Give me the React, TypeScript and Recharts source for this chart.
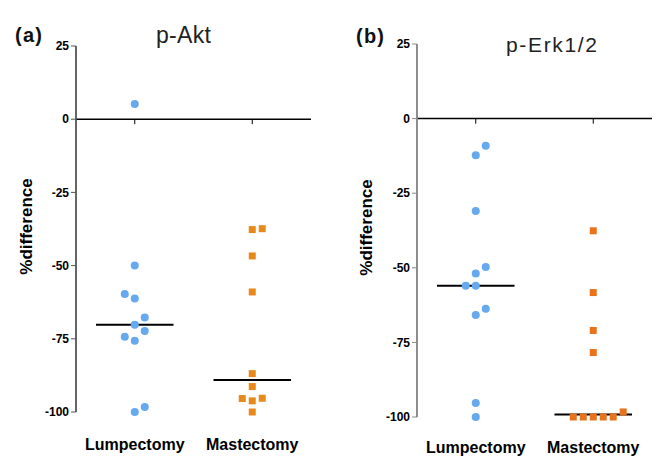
import React from 'react';
import { ScatterChart, Scatter, XAxis, YAxis, ReferenceLine } from 'recharts';

const categories = ['Lumpectomy', 'Mastectomy'];
const yTicks = [25, 0, -25, -50, -75, -100];

// p-Akt, % difference per patient; slot = column in the dot plot (dodge)
const aktLumpectomy = [5.2, -50, -59.7, -61.2, -67.7, -70.2, -72.3, -74.3, -75.7, -98.3, -100];
const aktLumpectomySlot = [0, 0, -1, 0, 1, 0, 1, -1, 0, 1, 0];
const aktMastectomy = [-37.7, -37.4, -46.7, -59, -86.9, -91.3, -95.4, -96.2, -95.3, -100];
const aktMastectomySlot = [0, 1, 0, 0, 0, 0, -1, 0, 1, 0];

// p-Erk1/2
const erkLumpectomy = [-9.1, -12.3, -31, -49.7, -51.9, -56, -56, -63.7, -65.8, -95.3, -100];
const erkLumpectomySlot = [1, 0, 0, 1, 0, -1, 0, 1, 0, 0, 0];
const erkMastectomy = [-37.6, -58.3, -71, -78.4, -100, -100, -100, -100, -100, -98.3];
const erkMastectomySlot = [0, 0, 0, 0, -2, -1, 0, 1, 2, 3];

const BLUE = '#66a9ef';
const SLOT_STEP = 0.17;
const HALF_MEDIAN = 0.66;

const toPoints = (values: number[], slots: number[], cat: number) =>
  values.map((v, i) => ({ x: 1 + cat * 2 + slots[i] * SLOT_STEP, y: v }));

const median = (values: number[]) => {
  const s = [...values].sort((a, b) => a - b);
  const m = Math.floor(s.length / 2);
  return s.length % 2 ? s[m] : (s[m - 1] + s[m]) / 2;
};

const Dot = (props: any) => <circle cx={props.cx} cy={props.cy} r={4} fill={BLUE} />;
const makeSquare = (color: string) => (props: any) =>
  <rect x={props.cx - 3.5} y={props.cy - 3.5} width={7} height={7} fill={color} />;

interface PanelProps {
  left: number;
  width: number;
  top: number;
  right: number;
  yAxisWidth: number;
  xAxisHeight: number;
  labelGap: number;
  axisColor: string;
  orange: string;
  lump: number[];
  lumpSlot: number[];
  mast: number[];
  mastSlot: number[];
}

function Panel(p: PanelProps) {
  const lumpMed = median(p.lump);
  const mastMed = median(p.mast);
  return (
    <div style={{ position: 'absolute', left: p.left, top: 0 }}>
      <ScatterChart width={p.width} height={470} margin={{ top: p.top, right: p.right, bottom: 0, left: 0 }}>
        <XAxis
          type='number'
          dataKey='x'
          domain={[0, 4]}
          ticks={[1, 3]}
          height={p.xAxisHeight}
          axisLine={false}
          tickLine={false}
          tickSize={0}
          tickMargin={p.labelGap}
          tickFormatter={(v) => categories[(v - 1) / 2]}
          tick={{ fontSize: 16, fontWeight: 'bold', fill: '#000' }}
        />
        <YAxis
          type='number'
          dataKey='y'
          domain={[-100, 25]}
          ticks={yTicks}
          width={p.yAxisWidth}
          stroke={p.axisColor}
          tickSize={5}
          tickMargin={2}
          tick={{ fontSize: 12, fontWeight: 'bold', fill: '#000' }}
        />
        <ReferenceLine y={0} stroke='#000' strokeWidth={1.5} />
        <ReferenceLine segment={[{ x: 1, y: 0 }, { x: 1, y: -1.7 }]} stroke='#000' strokeWidth={1} />
        <ReferenceLine segment={[{ x: 3, y: 0 }, { x: 3, y: -1.7 }]} stroke='#000' strokeWidth={1} />
        <Scatter data={toPoints(p.lump, p.lumpSlot, 0)} shape={Dot} isAnimationActive={false} />
        <Scatter data={toPoints(p.mast, p.mastSlot, 1)} shape={makeSquare(p.orange)} isAnimationActive={false} />
        <ReferenceLine
          segment={[{ x: 1 - HALF_MEDIAN, y: lumpMed }, { x: 1 + HALF_MEDIAN, y: lumpMed }]}
          stroke='#000'
          strokeWidth={2}
        />
        <ReferenceLine
          segment={[{ x: 3 - HALF_MEDIAN, y: mastMed }, { x: 3 + HALF_MEDIAN, y: mastMed }]}
          stroke='#000'
          strokeWidth={2}
        />
      </ScatterChart>
    </div>
  );
}

export default function App() {
  return (
    <div
      style={{
        position: 'absolute',
        left: 0,
        top: 0,
        width: 665,
        height: 470,
        background: '#fff',
        fontFamily: '"Liberation Sans", Arial, sans-serif',
      }}
    >
      <Panel
        left={0}
        width={330}
        top={46}
        right={19}
        yAxisWidth={76}
        xAxisHeight={58}
        labelGap={27}
        axisColor='#555'
        orange='#e88a1a'
        lump={aktLumpectomy}
        lumpSlot={aktLumpectomySlot}
        mast={aktMastectomy}
        mastSlot={aktMastectomySlot}
      />
      <Panel
        left={330}
        width={335}
        top={44}
        right={13}
        yAxisWidth={87}
        xAxisHeight={53}
        labelGap={25}
        axisColor='#888'
        orange='#e9731c'
        lump={erkLumpectomy}
        lumpSlot={erkLumpectomySlot}
        mast={erkMastectomy}
        mastSlot={erkMastectomySlot}
      />
      <svg width={665} height={470} style={{ position: 'absolute', left: 0, top: 0, pointerEvents: 'none' }}>
        {/* y axis lines, same spot as the plot's left edge */}
        <line x1={76} y1={46} x2={76} y2={412} stroke='#555' strokeWidth={1.6} />
        <line x1={417} y1={44} x2={417} y2={417} stroke='#888' strokeWidth={1.8} />
        <text x={15} y={42} fontSize={20} fontWeight='bold' fill='#111' textLength={27}>(a)</text>
        <text x={356} y={42.5} fontSize={20} fontWeight='bold' fill='#111' textLength={28}>(b)</text>
        <text x={156} y={43} fontSize={23} fill='#222' textLength={55}>p-Akt</text>
        <text x={506} y={52} fontSize={21} fill='#222' textLength={91}>p-Erk1/2</text>
        <text
          x={26}
          y={226.5}
          fontSize={17}
          fontWeight='bold'
          fill='#000'
          textAnchor='middle'
          dominantBaseline='central'
          transform='rotate(-90, 26, 226.5)'
        >
          %difference
        </text>
        <text
          x={366.5}
          y={227.5}
          fontSize={17}
          fontWeight='bold'
          fill='#000'
          textAnchor='middle'
          dominantBaseline='central'
          transform='rotate(-90, 366.5, 227.5)'
        >
          %difference
        </text>
      </svg>
    </div>
  );
}
